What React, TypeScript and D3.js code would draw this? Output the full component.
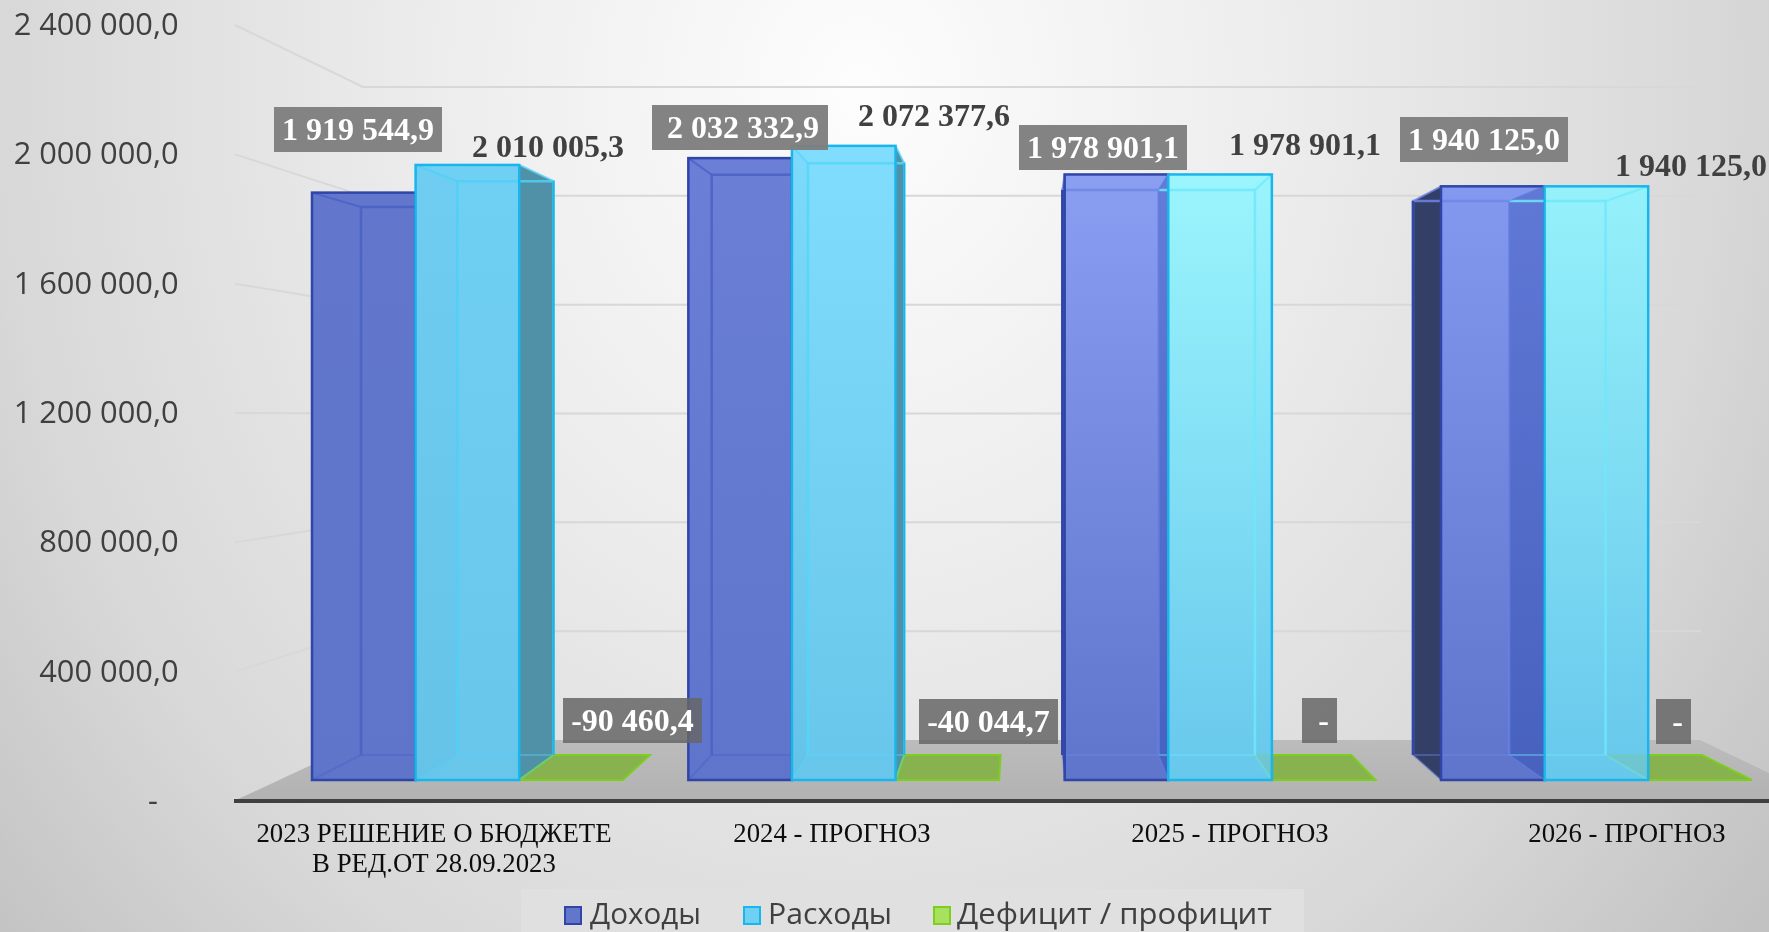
import React from "react";
import * as d3 from "d3";

const categories = [["2023 РЕШЕНИЕ О БЮДЖЕТЕ", "В РЕД.ОТ 28.09.2023"], ["2024 - ПРОГНОЗ"], ["2025 - ПРОГНОЗ"], ["2026 - ПРОГНОЗ"]];
const income = [1919544.9, 2032332.9, 1978901.1, 1940125.0];
const expense = [2010005.3, 2072377.6, 1978901.1, 1940125.0];
const deficit = [-90460.4, -40044.7, 0, 0];
const axisTicks = [0, 400000, 800000, 1200000, 1600000, 2000000, 2400000];
const legendNames = ["Доходы", "Расходы", "Дефицит / профицит"];

// layout
const W = 1769, H = 932;
const yAxis = d3.scaleLinear().domain([0, 2400000]).range([801, 25]);
const yBack = d3.scaleLinear().domain([0, 2400000]).range([740, 87]);
const yBarFront = d3.scaleLinear().domain([0, 1000000]).range([780, 474]);
const yBarBack = d3.scaleLinear().domain([0, 1000000]).range([755, 469.5]);
const xFront = d3.scaleLinear().domain([0, 3]).range([312, 1441]);
const xBack = d3.scaleLinear().domain([0, 3]).range([361, 1413]);
const fw = 103.6, bw = 96.3;

const fmt = d3.formatLocale({ decimal: ",", thousands: " ", grouping: [3], currency: ["", ""], minus: "-" }).format(",.1f");
const label = (v: number) => (v === 0 ? "-" : fmt(v));

// per-group label placement: [left of grey box, top of grey box, right of grey box, text shift]
const incomeBox = [[274, 107, 442, 0], [652, 105, 828, 3], [1019, 125, 1187, 0], [1400, 117, 1568, 0]];
const expenseText = [[472, 157], [858, 126], [1229, 155], [1615, 176]];
const deficitBox = [[563, 698, 702, 0], [919, 699, 1058, 0], [1302, 698, 1337, 4], [1656, 699, 1691, 4]];
const catCenter = [434, 832, 1230, 1627];

const incomeStops = [["#6277cc", "#5e75ca"], ["#6a7fd5", "#5e75cb"], ["#8a9ef2", "#5e75cb"], ["#8398ef", "#5e75cb"]];
const expenseStops = [["#70d0f3", "#68c6ea"], ["#80ddfd", "#68c6ea"], ["#9bf5fd", "#68c8ec"], ["#95f1fa", "#68c8ec"]];
const incomeInner = ["#4a60c6", "#4a60c6", "#6f86e6", "#6f86e6"];
const expenseInner = ["#4fd0f8", "#55d6fc", "#6fe8fc", "#6fe8fc"];

const pts = (a: number[][]) => a.map((p) => p.join(",")).join(" ");

function geom(g: number, s: number, v: number) {
  const fl = xFront(g) + fw * s, fr = fl + fw;
  const bl = xBack(g) + bw * s, br = bl + bw;
  const ft = yBarFront(Math.max(0, v)), fb = yBarFront(0);
  const bt = yBarBack(Math.max(0, v)), bb = yBarBack(0);
  return { fl, fr, bl, br, ft, fb, bt, bb };
}

function body(g: number, s: number, v: number, gradId: string, kind: "inc" | "exp") {
  const q = geom(g, s, v);
  const left = pts([[q.fl, q.ft], [q.bl, q.bt], [q.bl, q.bb], [q.fl, q.fb]]);
  const right = pts([[q.fr, q.ft], [q.br, q.bt], [q.br, q.bb], [q.fr, q.fb]]);
  const leftOuter = q.bl < q.fl, rightOuter = q.br > q.fr;
  return (
    <g>
      <rect x={q.fl} y={q.ft} width={q.fr - q.fl} height={q.fb - q.ft} fill={`url(#${gradId})`} />
      {!rightOuter && <polygon points={right} fill={kind === "inc" ? "rgba(30,60,170,.22)" : "rgba(0,60,120,.02)"} />}
      {rightOuter && <polygon points={right} fill={kind === "inc" ? "#5c74c8" : "#5191a8"} />}
      {!leftOuter && kind === "exp" && <polygon points={left} fill="rgba(0,50,120,.1)" />}
      {leftOuter && <polygon points={left} fill={kind === "inc" ? "#343f68" : "rgba(30,60,170,.16)"} />}
    </g>
  );
}

function edges(g: number, s: number, v: number, outer: string, inner: string) {
  const q = geom(g, s, v);
  const lo = q.bl < q.fl, ro = q.br > q.fr;
  const hideLeft = s === 1 && lo;
  const backTop = `M${q.br},${q.bb}V${q.bt}H${q.bl}` + (hideLeft ? "" : `V${q.bb}`);
  const topDiag = `M${q.fr},${q.ft}L${q.br},${q.bt}` + (hideLeft ? "" : `M${q.fl},${q.ft}L${q.bl},${q.bt}`);
  const bottom = `M${q.bl},${q.bb}H${q.br}M${q.fr},${q.fb}L${q.br},${q.bb}` + (hideLeft ? "" : `M${q.fl},${q.fb}L${q.bl},${q.bb}`);
  return (
    <g fill="none">
      <path d={bottom} stroke={inner} strokeWidth={2} strokeOpacity={0.4} />
      <path d={backTop} stroke={inner} strokeWidth={2.5} strokeOpacity={0.85} />
      <path d={topDiag} stroke={inner} strokeWidth={2} strokeOpacity={0.8} />
      {hideLeft && <path d={`M${q.bl},${q.bb}V${q.bt}M${q.fl},${q.fb}L${q.bl},${q.bb}M${q.fl},${q.ft}L${q.bl},${q.bt}`} stroke="#5a7ad8" strokeWidth={1.5} strokeOpacity={0.45} />}
      {lo && s === 0 && <path d={`M${q.bl},${q.bb}V${q.bt}`} stroke={outer} strokeWidth={2.5} />}
      {ro && <path d={`M${q.br},${q.bb}V${q.bt}`} stroke={outer} strokeWidth={2} />}
      <rect x={q.fl} y={q.ft} width={q.fr - q.fl} height={q.fb - q.ft} stroke={outer} strokeWidth={2.5} />
    </g>
  );
}

const serif = "'Liberation Serif', serif";
const sans = "'Open Sans', sans-serif";

export default function App() {
  return (
    <svg width={W} height={H} style={{ position: "fixed", left: 0, top: 0, display: "block" }}>
      <defs>
        <radialGradient id="bg" gradientUnits="userSpaceOnUse" cx={860} cy={90} r={1150} gradientTransform="translate(860 90) scale(1 1.15) translate(-860 -90)">
          <stop offset="0" stopColor="#fdfdfd" />
          <stop offset="0.38" stopColor="#ececec" />
          <stop offset="0.75" stopColor="#d8d8d8" />
          <stop offset="1" stopColor="#c2c2c2" />
        </radialGradient>
        <linearGradient id="floor" x1="0" y1="0" x2="0" y2="1">
          <stop offset="0" stopColor="#bcbcbc" />
          <stop offset="1" stopColor="#b2b2b2" />
        </linearGradient>
        {categories.map((_, g) => (
          <React.Fragment key={g}>
            <linearGradient id={`inc${g}`} x1="0" y1="0" x2="0" y2="1">
              <stop offset="0" stopColor={incomeStops[g][0]} />
              <stop offset="1" stopColor={incomeStops[g][1]} />
            </linearGradient>
            <linearGradient id={`exp${g}`} x1="0" y1="0" x2="0" y2="1">
              <stop offset="0" stopColor={expenseStops[g][0]} />
              <stop offset="1" stopColor={expenseStops[g][1]} />
            </linearGradient>
          </React.Fragment>
        ))}
      </defs>
      <rect width={W} height={H} fill="url(#bg)" />

      {/* walls */}
      {axisTicks.slice(1).map((t) => (
        <path key={t} d={`M235,${yAxis(t)}L363,${yBack(t)}H1701`} fill="none" stroke="#d8d8d8" strokeWidth={2} />
      ))}
      <polygon points={pts([[236, 800], [365, 740], [1700, 740], [1769, 773], [1769, 801]])} fill="url(#floor)" />
      <rect x={234} y={799} width={W - 234} height={4} fill="#404040" />

      {/* axis labels */}
      {axisTicks.map((t) => (
        <text key={t} x={t === 0 ? 158 : 178.5} y={yAxis(t)} dy={10} textAnchor="end" fontFamily={sans} fontSize={30.8} fill="#404040">
          {t === 0 ? "-" : fmt(t)}
        </text>
      ))}

      {/* bars */}
      {categories.map((_, g) => {
        const dq = geom(g, 2, deficit[g]);
        const eq = geom(g, 1, expense[g]);
        return (
          <g key={g}>
            {body(g, 0, income[g], `inc${g}`, "inc")}
            {edges(g, 0, income[g], "#2f45a8", incomeInner[g])}
            {body(g, 1, expense[g], `exp${g}`, "exp")}
            <polygon
              points={pts([[dq.fl, dq.fb], [dq.fr, dq.fb], [dq.br, dq.bb], [dq.bl, dq.bb]])}
              fill="#88b14f"
              stroke="#7ccf1c"
              strokeWidth={2}
            />
            <rect x={eq.fl} y={eq.ft} width={eq.fr - eq.fl} height={eq.fb - eq.ft} fill={`url(#exp${g})`} fillOpacity={0.82} />
            {edges(g, 1, expense[g], "#18b6ec", expenseInner[g])}
          </g>
        );
      })}

      {/* data labels */}
      {categories.map((_, g) => (
        <g key={g} fontFamily={serif} fontWeight={700} fontSize={32}>
          <rect x={incomeBox[g][0]} y={incomeBox[g][1]} width={incomeBox[g][2] - incomeBox[g][0]} height={45} fill="#7f7f7f" fillOpacity={0.97} />
          <text x={(incomeBox[g][0] + incomeBox[g][2]) / 2 + incomeBox[g][3]} y={incomeBox[g][1] + 33} textAnchor="middle" fill="#fff">{label(income[g])}</text>
          <text x={expenseText[g][0]} y={expenseText[g][1]} fill="#404040">{label(expense[g])}</text>
          <rect x={deficitBox[g][0]} y={deficitBox[g][1]} width={deficitBox[g][2] - deficitBox[g][0]} height={45} fill="#666" fillOpacity={0.85} />
          <text x={(deficitBox[g][0] + deficitBox[g][2]) / 2 + deficitBox[g][3]} y={deficitBox[g][1] + 33} textAnchor="middle" fill="#fff">{label(deficit[g])}</text>
        </g>
      ))}

      {/* category labels */}
      {categories.map((lines, g) => (
        <text key={g} textAnchor="middle" fontFamily={serif} fontSize={26.8} fill="#0d0d0d">
          {lines.map((l, i) => (
            <tspan key={i} x={catCenter[g]} y={842 + i * 30}>{l}</tspan>
          ))}
        </text>
      ))}

      {/* legend */}
      <rect x={521} y={889} width={783} height={43} fill="#e0e0e0" />
      {legendNames.map((n, i) => {
        const mx = [564, 743, 933][i], tx = [590, 768, 957][i], tw = [111, 124, 315][i];
        const c = [["#6277cc", "#2f45a8"], ["#70d0f3", "#18b6ec"], ["#a8e060", "#7ccf1c"]][i];
        return (
          <g key={n}>
            <rect x={mx + 1} y={907} width={16} height={17} fill={c[0]} stroke={c[1]} strokeWidth={2} />
            <text x={tx} y={924} fontFamily={sans} fontSize={29.5} fill="#404040" textLength={tw} lengthAdjust="spacingAndGlyphs">{n}</text>
          </g>
        );
      })}
    </svg>
  );
}
